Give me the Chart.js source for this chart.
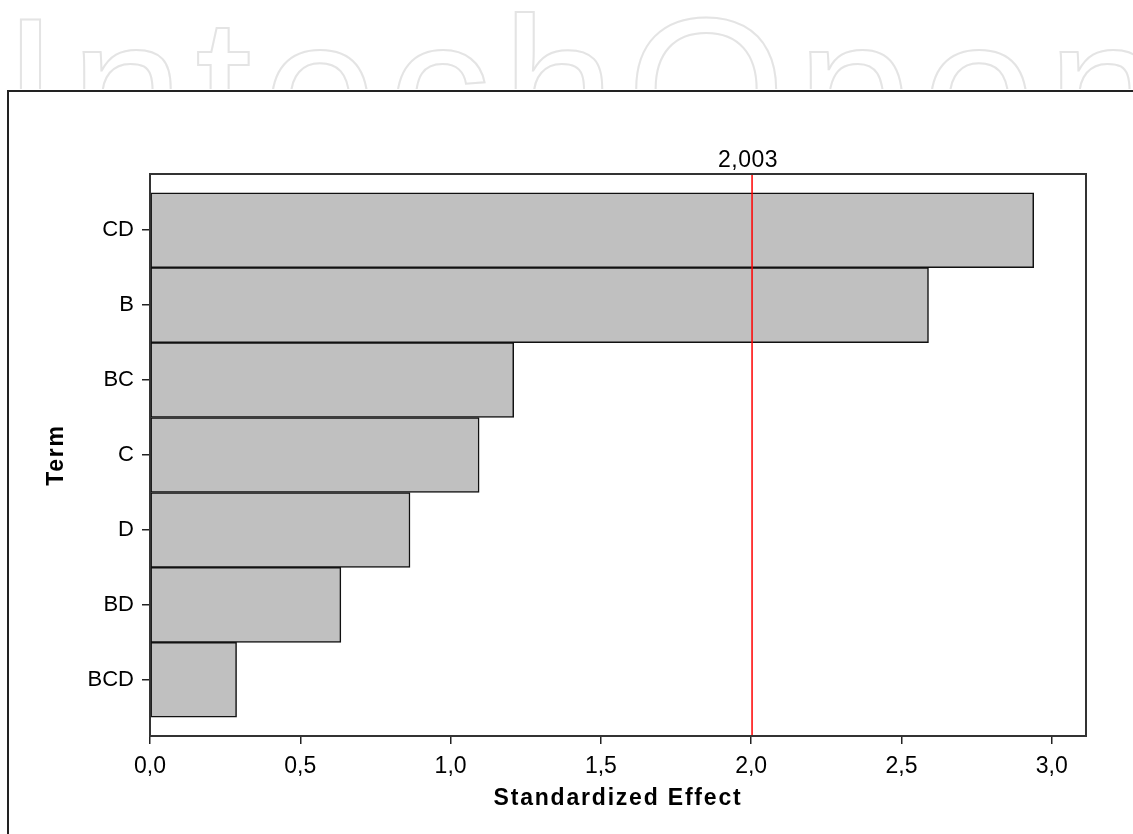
<!DOCTYPE html>
<html>
<head>
<meta charset="utf-8">
<title>Pareto Chart of the Standardized Effects</title>
<script src="https://cdn.jsdelivr.net/npm/chart.js@4/dist/chart.umd.min.js"></script>
<style>
    body { margin: 0; background: #ffffff; }
    #box { width: 1133px; height: 834px; }
</style>
</head>
<body>
<div id="box">
    <canvas id="graficoPareto" width="1133" height="834"></canvas>
</div>
<script>
// Termos do modelo (de cima para baixo)
const termos = ["CD", "B", "BC", "C", "D", "BD", "BCD"];

// Efeito padronizado de cada termo
const efeitos = [2.94, 2.59, 1.21, 1.095, 0.865, 0.635, 0.288];

// Valores das marcas do eixo X
const marcasX = [0, 0.5, 1.0, 1.5, 2.0, 2.5, 3.0];

// Linha de referencia (valor critico)
const valorCritico = 2.003;
const rotuloCritico = "2,003";

// Titulos dos eixos
const tituloX = "Standardized Effect";
const tituloY = "Term";

const fonte = '"Liberation Sans", Arial, sans-serif';

// Converte numero para texto com virgula (ex: 2,5)
function comVirgula(v) {
    return v.toFixed(1).replace(".", ",");
}

// Plugin que desenha a marca d'agua, a moldura externa, a linha vermelha e os titulos
const extras = {
    id: "extras",
    beforeDraw(chart) {
        const ctx = chart.ctx;

        // Marca d'agua clara no topo (cortada pela moldura)
        ctx.save();
        ctx.beginPath();
        ctx.rect(0, 0, 1133, 89);
        ctx.clip();
        ctx.font = "205px " + fonte;
        ctx.letterSpacing = "11px";
        ctx.strokeStyle = "#e4e4e4";
        ctx.lineWidth = 2;
        ctx.strokeText("IntechOpen", 2, 160);
        ctx.restore();

        // Moldura externa (so topo e esquerda aparecem)
        ctx.save();
        ctx.strokeStyle = "#222222";
        ctx.lineWidth = 2;
        ctx.beginPath();
        ctx.moveTo(1133, 91);
        ctx.lineTo(8, 91);
        ctx.lineTo(8, 834);
        ctx.stroke();
        ctx.restore();
    },
    afterDatasetsDraw(chart) {
        const ctx = chart.ctx;
        const area = chart.chartArea;
        const x = chart.scales.x.getPixelForValue(valorCritico);

        // Linha vermelha do valor critico
        ctx.save();
        ctx.strokeStyle = "#ff0000";
        ctx.lineWidth = 1.5;
        ctx.beginPath();
        ctx.moveTo(x, area.top);
        ctx.lineTo(x, area.bottom);
        ctx.stroke();

        // Rotulo acima do grafico
        ctx.fillStyle = "#000000";
        ctx.font = "23px " + fonte;
        ctx.letterSpacing = "0.5px";
        ctx.textAlign = "center";
        ctx.textBaseline = "alphabetic";
        ctx.fillText(rotuloCritico, x - 4, 167);

        // Caixa em volta da area do grafico
        ctx.strokeStyle = "#333333";
        ctx.lineWidth = 2;
        ctx.strokeRect(area.left, area.top, area.right - area.left, area.bottom - area.top);

        // Titulos dos eixos, com letras espacadas
        ctx.font = "bold 23px " + fonte;
        ctx.letterSpacing = "1.8px";
        ctx.fillText(tituloX, (area.left + area.right) / 2, 805);
        ctx.translate(63, (area.top + area.bottom) / 2);
        ctx.rotate(-Math.PI / 2);
        ctx.fillText(tituloY, 0, 0);
        ctx.restore();
    }
};

function graficoPareto() {
    const ctx = document.getElementById("graficoPareto");

    // Cada barra fica numa posicao inteira do eixo Y
    const pontos = efeitos.map((v, i) => ({ x: v, y: i }));

    new Chart(ctx, {
        type: "bar",
        data: {
            datasets: [{
                data: pontos,
                backgroundColor: "#c0c0c0",
                borderColor: "#111111",
                borderWidth: 1.5,
                borderSkipped: false,
                barPercentage: 1,
                categoryPercentage: 1
            }]
        },
        options: {
            indexAxis: "y",
            responsive: false,
            animation: false,
            layout: { padding: { top: 174, right: 47, left: 0, bottom: 0 } },
            plugins: {
                legend: { display: false },
                tooltip: { enabled: false }
            },
            scales: {
                x: {
                    type: "linear",
                    min: 0,
                    max: 3.114,
                    afterFit(s) { s.height = 98; },
                    afterBuildTicks(s) { s.ticks = marcasX.map(v => ({ value: v })); },
                    grid: { display: true, drawOnChartArea: false, drawTicks: true, tickLength: 8, color: "#222222", lineWidth: 1.5 },
                    border: { display: true, color: "#333333", width: 2 },
                    ticks: {
                        color: "#000000",
                        font: { family: fonte, size: 23 },
                        padding: 9,
                        maxRotation: 0,
                        callback: v => comVirgula(v)
                    }
                },
                y: {
                    type: "linear",
                    reverse: true,
                    offset: false,
                    min: -0.75,
                    max: 6.75,
                    afterFit(s) { s.width = 150; },
                    afterBuildTicks(s) { s.ticks = termos.map((t, i) => ({ value: i })); },
                    grid: { display: true, offset: false, drawOnChartArea: false, drawTicks: true, tickLength: 8, color: "#222222", lineWidth: 1.5 },
                    border: { display: true, color: "#333333", width: 2 },
                    ticks: {
                        color: "#000000",
                        font: { family: fonte, size: 22 },
                        padding: 8,
                        callback: v => termos[v]
                    }
                }
            }
        },
        plugins: [extras]
    });
}

graficoPareto();
</script>
</body>
</html>
